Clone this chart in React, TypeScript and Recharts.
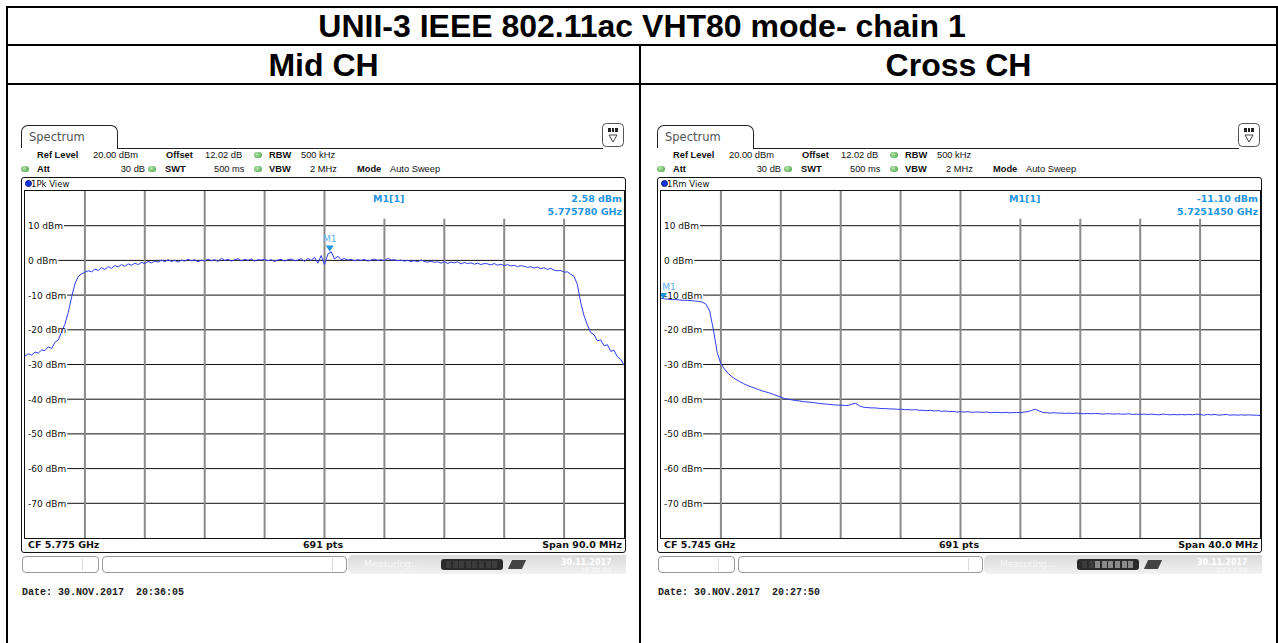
import React from "react";
import { LineChart, Line, XAxis, YAxis, ReferenceLine, ReferenceDot } from "recharts";

// level axis (dBm), reference level 20, 10 dB / div
const Y_TICKS = [10, 0, -10, -20, -30, -40, -50, -60, -70];
const Y_DOMAIN = [-80, 20];

// Mid CH sweep: CF 5.775 GHz, span 90 MHz, one value every 0.5 MHz
const MID_CF = 5775;
const MID_SPAN = 90;
const MID_STEP = 0.5;
const MID_LEVELS = [
  -27.6, -26.9, -27.3, -26.4, -26.7, -25.8, -26.0, -24.9, -25.4, -23.6,
  -22.9, -20.6, -18.4, -15.0, -10.6, -6.8, -4.6, -3.9, -3.4, -3.0,
  -3.3, -2.5, -2.9, -2.1, -2.6, -1.8, -2.3, -1.5, -1.9, -1.2,
  -1.7, -1.0, -1.4, -0.8, -1.2, -0.6, -0.9, -0.3, -0.7, -0.2,
  -0.5, 0.1, -0.4, 0.2, -0.3, 0.0, -0.5, 0.1, -0.2, 0.3,
  -0.1, 0.2, -0.4, 0.1, -0.2, 0.4, -0.1, 0.2, -0.3, 0.6,
  0.0, 0.3, -0.2, 0.2, 0.5, -0.1, 0.3, 0.0, 0.4, -0.2,
  0.2, 0.1, 0.3, -0.1, 0.2, -0.3, 0.1, 0.3, -0.2, 0.2,
  0.4, -0.1, 0.1, 0.5, -0.3, 0.6, 0.0, 0.9, -0.8, 1.4,
  -1.2, 1.8, 2.5, 0.4, 1.2, 0.2, 0.5, 0.1, 0.3, -0.1,
  0.2, 0.0, 0.3, -0.2, 0.1, 0.4, 0.0, 0.2, -0.1, 0.6,
  0.1, 0.2, -0.1, 0.1, -0.2, 0.0, -0.3, -0.1, -0.4, 0.1,
  -0.3, -0.5, -0.2, -0.6, -0.4, -0.8, -0.3, -0.9, -0.5, -0.7,
  -0.4, -1.0, -0.6, -0.9, -0.7, -1.1, -0.8, -1.2, -0.9, -1.0,
  -1.3, -0.9, -1.4, -1.1, -1.5, -1.2, -1.6, -1.4, -1.8, -1.5,
  -1.7, -2.0, -1.8, -2.2, -1.9, -2.4, -2.1, -2.6, -2.3, -2.8,
  -3.0, -2.9, -3.4, -3.3, -4.0, -4.6, -7.0, -12.2, -16.0, -18.6,
  -20.8, -21.4, -23.2, -22.9, -24.6, -24.3, -26.2, -25.9, -27.8, -28.5,
  -30.2,
];
const MID_MARKER = { f: 5775.78, level: 2.58 };

// Cross CH sweep: CF 5.745 GHz, span 40 MHz, one value every 0.25 MHz
const CROSS_CF = 5745;
const CROSS_SPAN = 40;
const CROSS_STEP = 0.25;
const CROSS_LEVELS = [
  -10.9, -11.1, -11.2, -11.3, -11.3, -11.4, -11.5, -11.5, -11.6, -11.7,
  -11.8, -12.0, -12.6, -14.6, -20.0, -26.5, -29.8, -31.4, -32.6, -33.6,
  -34.3, -34.9, -35.5, -36.0, -36.4, -36.8, -37.2, -37.6, -37.9, -38.2,
  -38.6, -39.0, -39.4, -39.8, -40.0, -40.2, -40.4, -40.5, -40.7, -40.8,
  -40.9, -41.0, -41.2, -41.3, -41.4, -41.5, -41.6, -41.7, -41.7, -41.8,
  -41.8, -41.4, -41.2, -41.9, -42.3, -42.4, -42.5, -42.5, -42.6, -42.7,
  -42.7, -42.8, -42.8, -42.9, -42.9, -43.0, -43.0, -43.1, -43.0, -43.2,
  -43.2, -43.3, -43.2, -43.4, -43.3, -43.5, -43.4, -43.6, -43.5, -43.7,
  -43.6, -43.7, -43.6, -43.8, -43.7, -43.7, -43.8, -43.7, -43.9, -43.8,
  -43.8, -43.9, -43.8, -43.9, -43.9, -43.8, -43.9, -43.7, -43.6, -43.2,
  -42.9, -43.4, -43.8, -43.9, -44.0, -43.9, -44.0, -44.0, -44.1, -44.0,
  -44.1, -44.0, -44.1, -44.2, -44.1, -44.2, -44.1, -44.2, -44.3, -44.2,
  -44.2, -44.3, -44.2, -44.3, -44.3, -44.2, -44.4, -44.3, -44.4, -44.3,
  -44.4, -44.3, -44.4, -44.5, -44.3, -44.4, -44.5, -44.4, -44.5, -44.4,
  -44.5, -44.4, -44.5, -44.3, -44.4, -44.6, -44.4, -44.5, -44.4, -44.6,
  -44.5, -44.4, -44.6, -44.5, -44.6, -44.5, -44.6, -44.5, -44.6, -44.6,
  -44.7,
];
const CROSS_MARKER = { f: 5725.145, level: -11.1 };

const SANS = '"Liberation Sans", Arial, sans-serif';
const DEJA = '"DejaVu Sans", Verdana, sans-serif';
const MONO = '"Liberation Mono", "Courier New", monospace';
const TRACE = "#2d3cf2";
const MARK = "#1f95e0";
const PLOT_W = 599;
const PLOT_H = 347;

const abs = (left: number, top: number, extra: React.CSSProperties = {}): React.CSSProperties => ({
  position: "absolute",
  left,
  top,
  ...extra,
});

const dbLabel = (v: number) => `${v} dBm`;
// rough pixel width of a level label in 9px DejaVu Sans
const labelPx = (v: number) => {
  const s = String(v);
  const digits = s.replace("-", "").length;
  return 9 * (0.636 * digits + (v < 0 ? 0.361 : 0) + 2.613);
};

function DbTick(props: any) {
  const { y, payload } = props;
  return (
    <text x={3} y={y + 3.5} fontSize={9} fontFamily={DEJA} fill="#111">
      {dbLabel(payload.value)}
    </text>
  );
}

function Marker(props: any) {
  const { cx, cy } = props;
  const tx = Math.max(cx, 8);
  return (
    <g>
      <path d={`M${cx - 4},${cy - 6} L${cx + 4},${cy - 6} L${cx},${cy} Z`} fill={MARK} />
      <text x={tx} y={cy - 9} textAnchor="middle" fontSize={9} fontFamily={DEJA} fill="#5ab0ea">
        M1
      </text>
    </g>
  );
}

function Txt({ x, y, children, bold, size = 9.3, font = SANS, color = "#111", align }: any) {
  const style: React.CSSProperties = {
    position: "absolute",
    top: y - 7,
    lineHeight: "14px",
    fontSize: size,
    fontFamily: font,
    fontWeight: bold ? 700 : 400,
    color,
    whiteSpace: "pre",
  };
  if (align === "right") style.right = 1278 - x;
  else if (align === "center") {
    style.left = x - 100;
    style.width = 200;
    style.textAlign = "center";
  } else style.left = x;
  return <div style={style}>{children}</div>;
}

function Dot({ x, y }: { x: number; y: number }) {
  return (
    <div
      style={abs(x - 4, y - 3, {
        width: 8,
        height: 6,
        borderRadius: 4,
        background: "radial-gradient(circle at 40% 35%, #b8e6b0, #3f9a3a)",
      })}
    />
  );
}

function Panel(props: any) {
  const { ox, view, levels, cf, span, step, marker, readout, footer, stamp, progress } = props;
  const lo = cf - span / 2;
  const hi = cf + span / 2;
  const data = levels.map((v: number, i: number) => ({ f: +(lo + i * step).toFixed(3), v }));
  const grid = Array.from({ length: 9 }, (_, k) => lo + ((k + 1) * span) / 10);
  const segs = Array.from({ length: 8 }, (_, k) => k);
  const pxToF = (px: number) => lo + (px / PLOT_W) * span;

  return (
    <>
      {/* tab + header */}
      <div
        style={abs(ox + 21, 125, {
          width: 97,
          height: 23,
          border: "1px solid #222",
          borderBottom: "none",
          borderRadius: "7px 7px 0 0",
          fontFamily: DEJA,
          fontSize: 11.5,
          color: "#555",
          lineHeight: "22px",
          paddingLeft: 7,
          boxSizing: "border-box",
        })}
      >
        Spectrum
      </div>
      <div style={abs(ox + 117, 148, { width: 486, height: 1, background: "#222" })} />
      <svg style={abs(ox + 602, 123)} width={22} height={24}>
        <rect x={0.5} y={0.5} width={21} height={23} rx={4} fill="#fff" stroke="#555" />
        <rect x={6} y={5} width={10} height={4} fill="#222" />
        <line x1={9.5} y1={5} x2={9.5} y2={9} stroke="#fff" />
        <line x1={12.5} y1={5} x2={12.5} y2={9} stroke="#fff" />
        <path d="M7,12 L15,12 L11,19 Z" fill="#fff" stroke="#333" strokeWidth={0.9} />
      </svg>

      <Txt x={ox + 37} y={155} bold>Ref Level</Txt>
      <Txt x={ox + 93} y={155}>20.00 dBm</Txt>
      <Txt x={ox + 166} y={155} bold>Offset</Txt>
      <Txt x={ox + 205} y={155}>12.02 dB</Txt>
      <Dot x={ox + 258} y={155} />
      <Txt x={ox + 269} y={155} bold>RBW</Txt>
      <Txt x={ox + 301} y={155}>500 kHz</Txt>

      <Dot x={ox + 25} y={169} />
      <Txt x={ox + 37} y={169} bold>Att</Txt>
      <Txt x={ox + 145} y={169} align="right">30 dB</Txt>
      <Dot x={ox + 152} y={169} />
      <Txt x={ox + 165} y={169} bold>SWT</Txt>
      <Txt x={ox + 214} y={169}>500 ms</Txt>
      <Dot x={ox + 258} y={169} />
      <Txt x={ox + 269} y={169} bold>VBW</Txt>
      <Txt x={ox + 310} y={169}>2 MHz</Txt>
      <Txt x={ox + 357} y={169} bold>Mode</Txt>
      <Txt x={ox + 390} y={169}>Auto Sweep</Txt>

      {/* view window */}
      <div
        style={abs(ox + 21, 177, {
          width: 605,
          height: 376,
          border: "1.5px solid #111",
          borderRadius: 3,
          boxSizing: "border-box",
        })}
      />
      <div
        style={abs(ox + 25, 180, {
          width: 7,
          height: 7,
          borderRadius: 4,
          background: "#1434e8",
          border: "1px solid #0a1a70",
          boxSizing: "border-box",
        })}
      />
      <Txt x={ox + 31} y={184} size={8.5} font={DEJA}>{view}</Txt>

      <div style={abs(ox + 25, 191)}>
        <LineChart width={PLOT_W} height={PLOT_H} data={data} margin={{ top: 0, right: 0, bottom: 0, left: 0 }}>
          <XAxis type="number" dataKey="f" domain={[lo, hi]} hide allowDataOverflow />
          <YAxis
            type="number"
            domain={Y_DOMAIN}
            ticks={Y_TICKS}
            mirror
            axisLine={false}
            tickLine={false}
            tick={<DbTick />}
            allowDataOverflow
          />
          {Y_TICKS.map((t) => (
            <ReferenceLine
              key={`h${t}`}
              segment={[
                { x: pxToF(labelPx(t) + 4), y: t },
                { x: hi, y: t },
              ]}
              stroke="#111"
              strokeWidth={1}
            />
          ))}
          {grid.map((g, k) =>
            k < 5 ? (
              <ReferenceLine key={g} x={g} stroke="#8a8a8a" strokeWidth={2} />
            ) : (
              <ReferenceLine
                key={g}
                segment={[
                  { x: g, y: 12 },
                  { x: g, y: -80 },
                ]}
                stroke="#8a8a8a"
                strokeWidth={2}
              />
            )
          )}
          <Line
            type="linear"
            dataKey="v"
            stroke={TRACE}
            strokeWidth={1}
            dot={false}
            isAnimationActive={false}
          />
          <ReferenceDot x={marker.f} y={marker.level} r={0} ifOverflow="visible" shape={<Marker />} />
        </LineChart>
      </div>
      {/* plot frame */}
      <div
        style={abs(ox + 24, 190, {
          width: 601,
          height: 349,
          borderTop: "1.5px solid #111",
          borderBottom: "1.5px solid #111",
          borderLeft: "1px solid #111",
          borderRight: "1.5px solid #111",
          boxSizing: "border-box",
        })}
      />

      <Txt x={ox + 373} y={199} bold size={9.5} font={DEJA} color={MARK}>M1[1]</Txt>
      <Txt x={ox + 622} y={199} bold size={9.5} font={DEJA} color={MARK} align="right">{readout[0]}</Txt>
      <Txt x={ox + 622} y={212} bold size={9.5} font={DEJA} color={MARK} align="right">{readout[1]}</Txt>

      <Txt x={ox + 28} y={545} bold size={9.5} font={DEJA}>{footer[0]}</Txt>
      <Txt x={ox + 323} y={545} bold size={9.5} font={DEJA} align="center">691 pts</Txt>
      <Txt x={ox + 622} y={545} bold size={9.5} font={DEJA} align="right">{footer[1]}</Txt>

      {/* status bar */}
      <div style={abs(ox + 22, 556, { width: 77, height: 17, border: "1px solid #999", borderRadius: 4, boxSizing: "border-box" })} />
      <div style={abs(ox + 82, 558, { width: 1, height: 13, background: "#ddd" })} />
      <div style={abs(ox + 102, 556, { width: 245, height: 17, border: "1px solid #999", borderRadius: 4, boxSizing: "border-box" })} />
      <div style={abs(ox + 332, 558, { width: 1, height: 13, background: "#ddd" })} />
      <div
        style={abs(ox + 348, 555, {
          width: 278,
          height: 19,
          borderRadius: "5px 0 0 5px",
          background: "linear-gradient(to bottom, #dadada, #f2f2f2)",
        })}
      />
      <Txt x={ox + 364} y={564} size={9} font={DEJA} color="#f7f7f7">Measuring...</Txt>
      <div style={abs(ox + 441, 559, { width: 62, height: 11, borderRadius: 3, background: "#2b2b2b" })}>
        {segs.map((s) => (
          <div
            key={s}
            style={abs(5 + s * 6.6, 2, {
              width: 5,
              height: 7,
              background: s < progress ? "#3c3c3c" : "#8a8a8a",
            })}
          />
        ))}
      </div>
      <div style={abs(ox + 510, 560, { width: 14, height: 9, background: "#444", transform: "skewX(-25deg)" })} />
      <Txt x={ox + 561} y={563} size={8} bold font={DEJA} color="#ffffff">{stamp[0]}</Txt>
      <Txt x={ox + 580} y={571} size={7} font={DEJA} color="#fafafa">{stamp[1]}</Txt>

      <Txt x={ox + 22} y={593} size={10} bold font={MONO} color="#222">{stamp[2]}</Txt>
    </>
  );
}

export default function App() {
  const head: React.CSSProperties = {
    textAlign: "center",
    fontFamily: SANS,
    fontWeight: 700,
    fontSize: 32,
  };
  return (
    <div style={{ position: "absolute", left: 0, top: 0, width: 1278, height: 643, background: "#fff", overflow: "hidden" }}>
      {/* table rules */}
      <div style={abs(6, 6, { width: 1272, height: 2, background: "#000" })} />
      <div style={abs(6, 44, { width: 1272, height: 2, background: "#000" })} />
      <div style={abs(6, 83, { width: 1272, height: 2, background: "#000" })} />
      <div style={abs(6, 6, { width: 2, height: 637, background: "#000" })} />
      <div style={abs(1276, 6, { width: 2, height: 637, background: "#000" })} />
      <div style={abs(639, 44, { width: 2, height: 599, background: "#000" })} />

      <div style={abs(8, 8, { ...head, width: 1268, height: 36, lineHeight: "37px" })}>
        UNII-3 IEEE 802.11ac VHT80 mode- chain 1
      </div>
      <div style={abs(8, 46, { ...head, width: 631, height: 37, lineHeight: "38px" })}>Mid CH</div>
      <div style={abs(641, 46, { ...head, width: 635, height: 37, lineHeight: "38px" })}>Cross CH</div>

      <Panel
        ox={0}
        view="1Pk View"
        levels={MID_LEVELS}
        cf={MID_CF}
        span={MID_SPAN}
        step={MID_STEP}
        marker={MID_MARKER}
        readout={["2.58 dBm", "5.775780 GHz"]}
        footer={["CF 5.775 GHz", "Span 90.0 MHz"]}
        stamp={["30.11.2017", "20:36:04", "Date: 30.NOV.2017  20:36:05"]}
        progress={8}
      />
      <Panel
        ox={636}
        view="1Rm View"
        levels={CROSS_LEVELS}
        cf={CROSS_CF}
        span={CROSS_SPAN}
        step={CROSS_STEP}
        marker={CROSS_MARKER}
        readout={["-11.10 dBm", "5.7251450 GHz"]}
        footer={["CF 5.745 GHz", "Span 40.0 MHz"]}
        stamp={["30.11.2017", "20:27:50", "Date: 30.NOV.2017  20:27:50"]}
        progress={2}
      />
    </div>
  );
}
